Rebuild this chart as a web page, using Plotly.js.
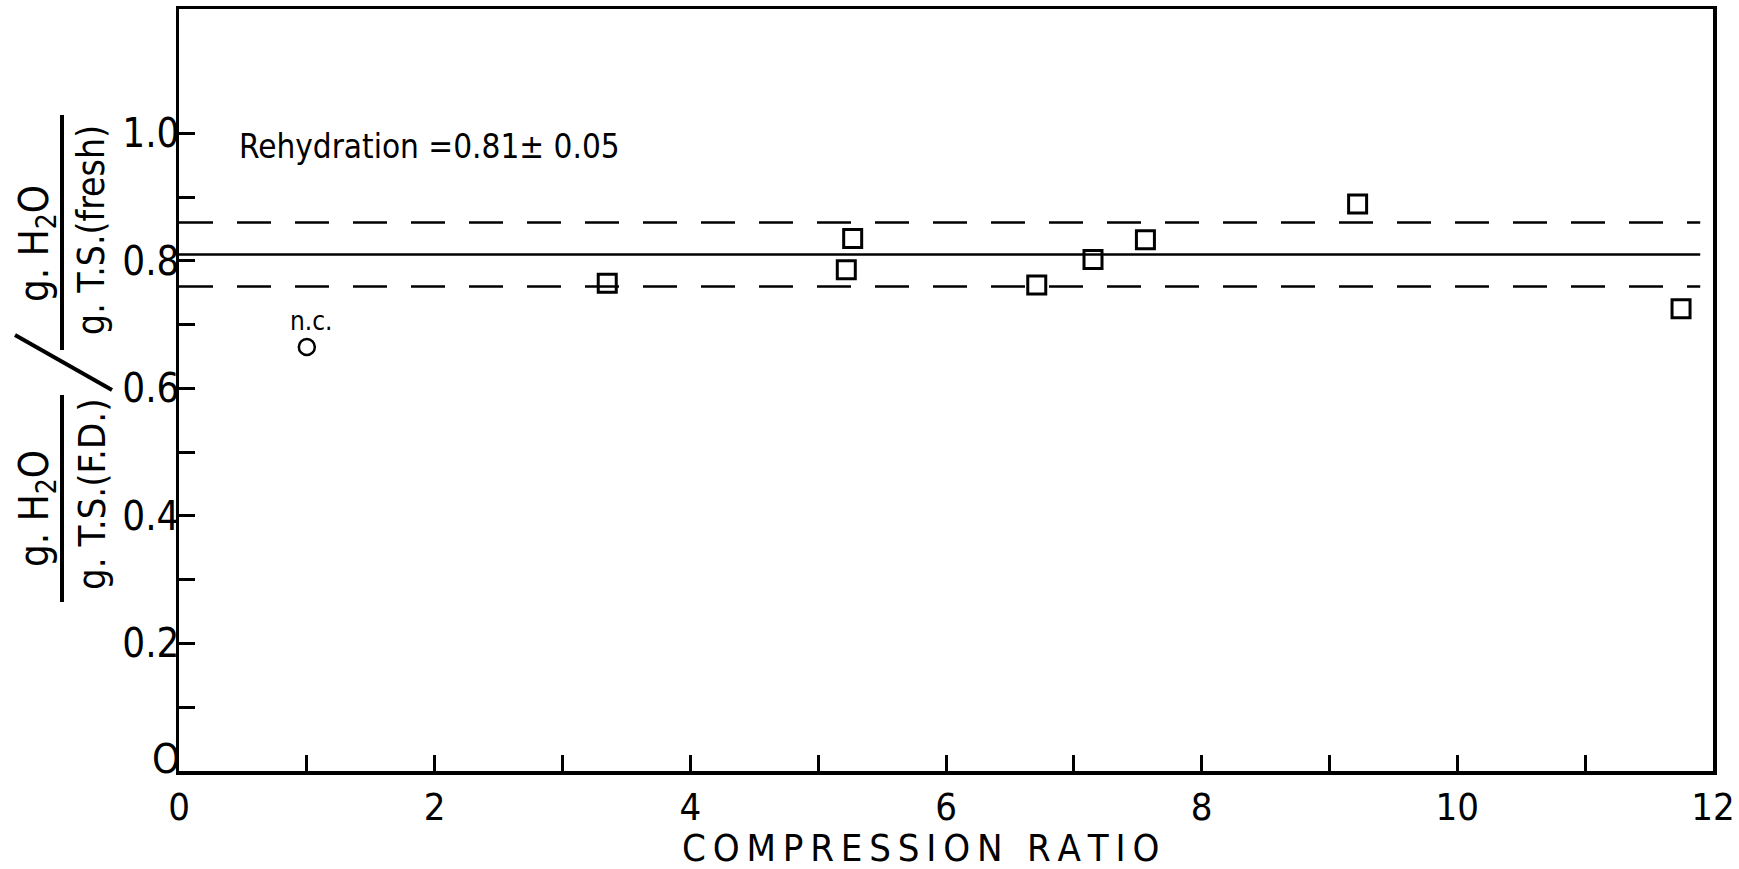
<!DOCTYPE html>
<html>
<head>
<meta charset="utf-8">
<script src="https://cdn.plot.ly/plotly-3.0.1.min.js"></script>
<style>html,body{margin:0;padding:0;background:#fff;}#chart{width:1739px;height:869px;}</style>
</head>
<body>
<div id="chart"></div>
<script>
// Data
const compressedX = [3.35, 5.22, 5.27, 6.71, 7.15, 7.56, 9.22, 11.75];
const compressedY = [0.765, 0.786, 0.835, 0.762, 0.802, 0.833, 0.889, 0.725];
const uncompressedX = [1.0];
const uncompressedY = [0.665];
const meanRehydration = 0.81;
const stdRehydration = 0.05;
const lineX = [0, 11.9];
const xTickVals = [0, 2, 4, 6, 8, 10, 12];
const xTickText = ['0', '2', '4', '6', '8', '10', '12'];
const xMinorVals = [1, 3, 5, 7, 9, 11];
const yTickVals = [0.2, 0.4, 0.6, 0.8, 1.0];
const yTickText = ['0.2', '0.4', '0.6', '0.8', '1.0'];
const yZeroLabel = 'O';
const yMinorVals = [0, 0.1, 0.3, 0.5, 0.7, 0.9];

const FONT = '"Liberation Sans Narrow", "DejaVu Sans Condensed", "Liberation Sans", sans-serif';
const L = 179, R = 1713, T = 9, B = 771;
const px = v => (v - L) / (R - L);
const py = v => (B - v) / (B - T);
const spaced = s => s.split('').join('\u2009');

const traces = [
  {x: lineX, y: lineX.map(() => meanRehydration), mode: 'lines', line: {color: '#000', width: 2.5}, hoverinfo: 'skip'},
  {x: lineX, y: lineX.map(() => meanRehydration + stdRehydration), mode: 'lines', line: {color: '#000', width: 2.5, dash: '34px,24px'}, hoverinfo: 'skip'},
  {x: lineX, y: lineX.map(() => meanRehydration - stdRehydration), mode: 'lines', line: {color: '#000', width: 2.5, dash: '34px,24px'}, hoverinfo: 'skip'},
  {x: compressedX, y: compressedY, mode: 'markers', marker: {symbol: 'square-open', size: 18, color: '#000', line: {width: 3, color: '#000'}}},
  {x: uncompressedX, y: uncompressedY, mode: 'markers', marker: {symbol: 'circle-open', size: 16, color: '#000', line: {width: 2.5, color: '#000'}}}
];

const minorTicks = vals => ({tickmode: 'array', tickvals: vals, ticks: 'inside', ticklen: 16, tickwidth: 3, tickcolor: '#000', showgrid: false});

const layout = {
  width: 1739, height: 869,
  margin: {l: L, r: 1739 - R, t: T, b: 869 - B},
  paper_bgcolor: '#fff', plot_bgcolor: '#fff',
  showlegend: false,
  font: {family: FONT, color: '#000'},
  xaxis: {
    range: [0, 12], tickmode: 'array', tickvals: xTickVals, ticktext: xTickText,
    ticks: 'inside', ticklen: 16, tickwidth: 3, tickcolor: '#000',
    minor: minorTicks(xMinorVals),
    showline: true, linewidth: 3.5, linecolor: '#000', mirror: true,
    showgrid: false, zeroline: false,
    tickfont: {size: 38, family: FONT}
  },
  yaxis: {
    range: [0, 1.195], tickmode: 'array', tickvals: yTickVals, ticktext: yTickText,
    ticks: 'inside', ticklen: 16, tickwidth: 3, tickcolor: '#000',
    minor: minorTicks(yMinorVals),
    ticklabelstandoff: -12,
    showline: true, linewidth: 3.5, linecolor: '#000', mirror: true,
    showgrid: false, zeroline: false,
    tickfont: {size: 40, family: FONT}
  },
  annotations: [
    {xref: 'paper', yref: 'paper', x: px(166), y: py(759), xanchor: 'center', yanchor: 'middle', showarrow: false,
     text: yZeroLabel, font: {size: 40, family: FONT}},
    {xref: 'paper', yref: 'paper', x: px(920), y: py(848), xanchor: 'center', yanchor: 'middle', showarrow: false,
     text: spaced('COMPRESSION') + '\u2009\u2009 ' + spaced('RATIO'), font: {size: 38, family: FONT}},
    {xref: 'x', yref: 'y', x: 0.45, y: 0.98, xanchor: 'left', yanchor: 'middle', showarrow: false,
     text: 'Rehydration =0.81± 0.05', font: {size: 33, family: FONT}},
    {xref: 'x', yref: 'y', x: 1.04, y: 0.705, xanchor: 'center', yanchor: 'middle', showarrow: false,
     text: 'n.c.', font: {size: 26, family: FONT}},
    {xref: 'paper', yref: 'paper', x: px(37), y: py(244), textangle: -90, xanchor: 'center', yanchor: 'middle', showarrow: false,
     text: 'g. H<sub>2</sub>O', font: {size: 40, family: FONT}},
    {xref: 'paper', yref: 'paper', x: px(91), y: py(230), textangle: -90, xanchor: 'center', yanchor: 'middle', showarrow: false,
     text: 'g. T.S.(fresh)', font: {size: 37, family: FONT}},
    {xref: 'paper', yref: 'paper', x: px(37), y: py(509), textangle: -90, xanchor: 'center', yanchor: 'middle', showarrow: false,
     text: 'g. H<sub>2</sub>O', font: {size: 40, family: FONT}},
    {xref: 'paper', yref: 'paper', x: px(92), y: py(495), textangle: -90, xanchor: 'center', yanchor: 'middle', showarrow: false,
     text: 'g. T.S.(F.D.)', font: {size: 38, family: FONT}}
  ],
  shapes: [
    {type: 'line', xref: 'paper', yref: 'paper', x0: px(62), x1: px(62), y0: py(115), y1: py(350), line: {color: '#000', width: 4}},
    {type: 'line', xref: 'paper', yref: 'paper', x0: px(62), x1: px(62), y0: py(395), y1: py(602), line: {color: '#000', width: 4}},
    {type: 'line', xref: 'paper', yref: 'paper', x0: px(15), x1: px(112), y0: py(335), y1: py(390), line: {color: '#000', width: 4}}
  ]
};

Plotly.newPlot('chart', traces, layout, {displayModeBar: false, staticPlot: true});
</script>
</body>
</html>
